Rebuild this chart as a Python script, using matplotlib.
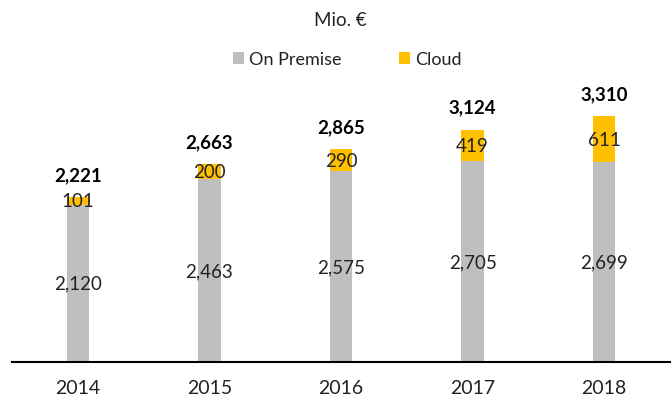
import matplotlib.pyplot as plt
import numpy as np

plt.rcParams['font.family'] = ['Lato', 'DejaVu Sans']

years = ["2014", "2015", "2016", "2017", "2018"]
on_premise = [2120, 2463, 2575, 2705, 2699]
cloud = [101, 200, 290, 419, 611]
totals = [2221, 2663, 2865, 3124, 3310]

gray = "#BFBFBF"
yellow = "#FFC000"
txt = "#222222"

fig = plt.figure(figsize=(6.72, 4.02), dpi=100)
ax = fig.add_axes([12 / 672, 39 / 402, 658 / 672, 282 / 402])

x = np.arange(len(years))
w = 0.17
ax.bar(x, on_premise, width=w, color=gray, label="On Premise")
ax.bar(x, cloud, width=w, bottom=on_premise, color=yellow, label="Cloud")

# segment labels
for i in range(len(years)):
    ax.text(x[i], on_premise[i] / 2, f"{on_premise[i]:,}", ha="center", va="center",
            fontsize=13.5, color=txt)
    ax.text(x[i], on_premise[i] + cloud[i] / 2, f"{cloud[i]:,}", ha="center", va="center",
            fontsize=13.5, color=txt)
    ax.annotate(f"{totals[i]:,}", (x[i], totals[i]), xytext=(0, 16.5), textcoords="offset points",
                ha="center", va="center", fontsize=13.5, fontweight="bold", color="black")

ax.set_xlim(-0.5, 4.5)
ax.set_ylim(0, 3800)
ax.set_xticks(x)
ax.set_xticklabels(years, fontsize=14, color=txt)
ax.tick_params(axis="x", length=0, pad=12)
ax.set_yticks([])
for s in ["top", "right", "left"]:
    ax.spines[s].set_visible(False)
ax.spines["bottom"].set_linewidth(1.5)
ax.spines["bottom"].set_color("black")

fig.text(0.506, 0.95, "Mio. €", ha="center", va="center", fontsize=13.5, color=txt)
fig.legend(loc="center", bbox_to_anchor=(0.517, 0.85), ncol=2, frameon=False,
           fontsize=13, handlelength=0.6, handleheight=0.6, handletextpad=0.3,
           columnspacing=3.2, labelcolor=txt)

plt.savefig("out.png")
